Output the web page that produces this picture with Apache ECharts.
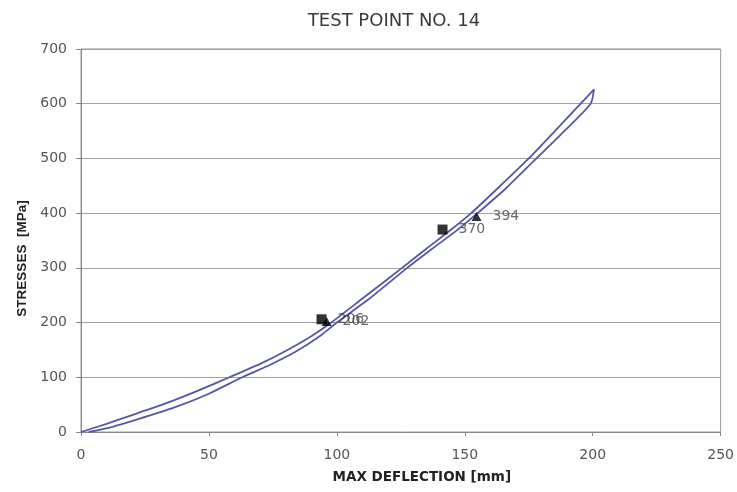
<!DOCTYPE html>
<html>
<head>
<meta charset="utf-8">
<script src="https://cdn.jsdelivr.net/npm/echarts@6/dist/echarts.min.js"></script>
<style>html,body{margin:0;padding:0;background:#fff;}#c{width:737px;height:492px;}</style>
</head>
<body>
<div id="c"></div>
<script>
const titleText = 'TEST POINT NO. 14';
const xName = 'MAX DEFLECTION [mm]';
const yName = 'STRESSES  [MPa]';

const upperX = [0, 10, 20, 34.7, 46, 58, 69.8, 80, 90, 97.8, 110, 125.5, 135, 144.7, 152.5, 163, 175, 185, 195.3, 200.5];
const upperY = [0, 15, 31, 55, 76, 100, 124, 148, 175, 200, 244, 300, 335, 370, 400, 446, 500, 549, 600, 626];

const lowerX = [3, 12, 22, 36, 50, 63, 74, 84, 93, 100, 112.5, 127.5, 137, 147, 155, 166, 178, 188.5, 199.2, 200.5];
const lowerY = [0, 9, 23, 44, 70, 100, 123, 147, 174, 200, 243, 300, 334, 369, 400, 445, 500, 548, 600, 626];

const squareX = [94, 141.3];
const squareY = [206, 370];
const triangleX = [96, 154.6];
const triangleY = [202, 394];

const xMin = 0, xMax = 250, xStep = 50;
const yMin = 0, yMax = 700, yStep = 100;

const zip = (xs, ys) => xs.map((x, i) => [x, ys[i]]);

const chart = echarts.init(document.getElementById('c'), null, {renderer: 'canvas'});
const lineColor = '#5656a4';
const labelStyle = {
  show: true, position: 'right', distance: 11,
  formatter: p => String(p.value[1]),
  fontFamily: 'DejaVu Sans', fontSize: 14, color: '#444'
};
chart.setOption({
  animation: false,
  backgroundColor: '#fff',
  title: {
    text: titleText, left: 389, top: 7, textAlign: 'center',
    textStyle: {fontFamily: 'DejaVu Sans', fontSize: 18, fontWeight: 'normal', color: '#3a3a3a'}
  },
  grid: {left: 81, right: 15, top: 49, bottom: 60, show: true, borderColor: '#999', borderWidth: 1, backgroundColor: 'transparent'},
  xAxis: {
    type: 'value', min: xMin, max: xMax, interval: xStep,
    name: xName, nameLocation: 'middle', nameGap: 38,
    nameTextStyle: {fontFamily: 'DejaVu Sans', fontWeight: 'bold', fontSize: 13.5, color: '#222', padding: [0, 0, 0, 42]},
    axisLine: {show: true, lineStyle: {color: '#888', width: 1}},
    axisTick: {show: true, length: 4, lineStyle: {color: '#888'}},
    axisLabel: {fontFamily: 'DejaVu Sans', fontSize: 14, color: '#555', margin: 16},
    splitLine: {show: false}
  },
  yAxis: {
    type: 'value', min: yMin, max: yMax, interval: yStep,
    name: yName, nameLocation: 'middle', nameGap: 52,
    nameTextStyle: {fontFamily: 'Liberation Sans', fontWeight: 'bold', fontSize: 13.5, color: '#222', padding: [0, 36, 0, 0]},
    axisLine: {show: true, lineStyle: {color: '#888', width: 1}},
    axisTick: {show: true, length: 5, lineStyle: {color: '#888'}},
    axisLabel: {fontFamily: 'DejaVu Sans', fontSize: 14, color: '#555', margin: 14},
    splitLine: {show: true, lineStyle: {color: '#a0a0a0', width: 1.2}}
  },
  series: [
    {type: 'line', name: 'upper', data: zip(upperX, upperY), showSymbol: false, symbol: 'none', smooth: 0.2,
     lineStyle: {color: lineColor, width: 1.8}, z: 2},
    {type: 'line', name: 'lower', data: zip(lowerX, lowerY), showSymbol: false, symbol: 'none', smooth: 0.2,
     lineStyle: {color: lineColor, width: 1.8}, z: 2},
    {type: 'scatter', name: 'squares', data: zip(squareX, squareY), symbol: 'rect', symbolSize: 10,
     itemStyle: {color: '#000'}, label: labelStyle, z: 3},
    {type: 'scatter', name: 'triangles', data: zip(triangleX, triangleY), symbol: 'triangle', symbolSize: [10, 9],
     itemStyle: {color: '#000'}, label: labelStyle, z: 3}
  ]
});
</script>
</body>
</html>
